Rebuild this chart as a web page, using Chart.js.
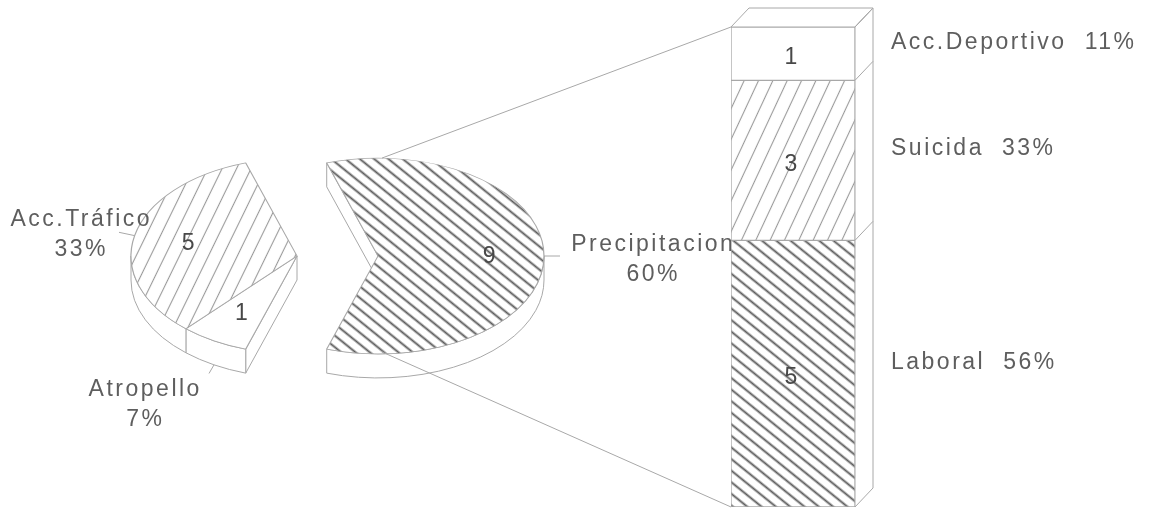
<!DOCTYPE html>
<html>
<head>
<meta charset="utf-8">
<script src="https://cdn.jsdelivr.net/npm/chart.js@4.4.1/dist/chart.umd.min.js"></script>
<style>
  html, body { margin: 0; padding: 0; background: #fff; }
  #wrap { position: relative; width: 1155px; height: 508px; overflow: hidden; background: #fff; }
  #wrap canvas { position: absolute; left: 0; top: 0; }
</style>
</head>
<body>
<div id="wrap">
  <canvas id="pieCanvas" width="1155" height="508"></canvas>
  <canvas id="barCanvas" width="1155" height="508"></canvas>
</div>
<script>
// Main breakdown of cases (pie) and the split of "Precipitacion" (stacked bar)
const pieLabels = ['Precipitacion', 'Atropello', 'Acc.Tráfico'];
const pieValues = [9, 1, 5];
const barLabels = ['Laboral', 'Suicida', 'Acc.Deportivo'];
const barValues = [5, 3, 1];

// ---- drawing constants ----
const K = 0.59;          // vertical squash of the tilted pie
const DEPTH = 24;        // thickness of the pie
const EXPLODE = 81;      // how far the split slice is pulled out
const BAR_DX = 18, BAR_DY = 19;   // depth of the bar
const LINE = '#a8a8a8';
const TEXT = '#5e5e5e';
const FONT = '23px "Liberation Sans", Arial, sans-serif';
const SPACING = '2.5px';
const VALUE_FONT = '23px "Liberation Sans", Arial, sans-serif';

function hatch(period, lineW, color, angleDeg, squash) {
  const c = document.createElement('canvas');
  c.width = 16; c.height = period;
  const g = c.getContext('2d');
  g.fillStyle = '#fff'; g.fillRect(0, 0, 16, period);
  g.fillStyle = color; g.fillRect(0, (period - lineW) / 2, 16, lineW);
  const p = g.createPattern(c, 'repeat');
  p.setTransform(new DOMMatrix().scaleSelf(1, 1 / squash).rotateSelf(angleDeg));
  return p;
}
const pieFills = [hatch(9, 1.9, '#5a5a5a', 39, K), '#ffffff', hatch(13, 1.1, '#9a9a9a', -64, K)];
const barFills = [hatch(9, 1.9, '#5a5a5a', 39, 1), hatch(13, 1.1, '#9a9a9a', -65, 1), '#ffffff'];

const pieTotal = pieValues.reduce((a, b) => a + b, 0);
const barTotal = barValues.reduce((a, b) => a + b, 0);
const pct = (v, t) => Math.round(v / t * 100) + '%';

// label placement (first-line baseline) for each pie slice
const pieLabelAt = [[652, 251], [144, 396], [80, 226]];
const geo = {};

function ell(x, y, R, a) { return [x + R * Math.cos(a), y + R * K * Math.sin(a)]; }

const pie3d = {
  id: 'pie3d',
  beforeDatasetsDraw(chart) {
    const ctx = chart.ctx, ca = chart.chartArea;
    const cx = (ca.left + ca.right) / 2, cy = (ca.top + ca.bottom) / 2;
    const arcs = chart.getDatasetMeta(0).data;
    const n = arcs.length;
    const exploded = i => i === 0;
    arcs[0].x = cx + EXPLODE;
    geo.cx = cx; geo.cy = cy; geo.R = arcs[0].outerRadius; geo.ex = arcs[0].x;

    ctx.save();
    ctx.fillStyle = '#fff'; ctx.strokeStyle = LINE; ctx.lineWidth = 1;
    // radial walls where a slice is cut open
    arcs.forEach((a, i) => {
      const prev = (i - 1 + n) % n, next = (i + 1) % n;
      const walls = [];
      if ((exploded(i) || exploded(prev)) && -Math.cos(a.startAngle) > 0) walls.push(a.startAngle);
      if ((exploded(i) || exploded(next)) && Math.cos(a.endAngle) > 0) walls.push(a.endAngle);
      walls.forEach(t => {
        const [px, py] = ell(a.x, a.y, a.outerRadius, t);
        ctx.beginPath();
        ctx.moveTo(a.x, a.y); ctx.lineTo(px, py); ctx.lineTo(px, py + DEPTH); ctx.lineTo(a.x, a.y + DEPTH);
        ctx.closePath(); ctx.fill(); ctx.stroke();
      });
    });
    // outer rim, front half only
    arcs.forEach(a => {
      const R = a.outerRadius;
      for (let k = -1; k <= 1; k++) {
        const lo = Math.max(a.startAngle, 2 * Math.PI * k);
        const hi = Math.min(a.endAngle, 2 * Math.PI * k + Math.PI);
        if (hi > lo) {
          ctx.beginPath();
          ctx.ellipse(a.x, a.y, R, R * K, 0, lo, hi, false);
          ctx.ellipse(a.x, a.y + DEPTH, R, R * K, 0, hi, lo, true);
          ctx.closePath(); ctx.fill(); ctx.stroke();
        }
      }
    });
    ctx.restore();

    // tilt the top faces
    ctx.save();
    ctx.translate(0, cy); ctx.scale(1, K); ctx.translate(0, -cy);
  },
  afterDatasetsDraw(chart) {
    const ctx = chart.ctx;
    ctx.restore();
    const arcs = chart.getDatasetMeta(0).data;
    ctx.save();
    arcs.forEach((a, i) => {
      const mid = (a.startAngle + a.endAngle) / 2;
      const R = a.outerRadius;
      // leader
      let [sx, sy] = ell(a.x, a.y, R, mid);
      if (Math.sin(mid) > 0.5) sy += DEPTH;
      const len = Math.sin(mid) > 0.5 ? 10 : 16;
      ctx.strokeStyle = LINE; ctx.lineWidth = 1;
      ctx.beginPath(); ctx.moveTo(sx, sy);
      ctx.lineTo(sx + Math.cos(mid) * len, sy + Math.sin(mid) * len); ctx.stroke();
      // value inside the slice
      const [vx, vy] = ell(a.x, a.y, R * 0.67, mid);
      ctx.font = VALUE_FONT; ctx.letterSpacing = '0px';
      ctx.fillStyle = '#484848'; ctx.textAlign = 'center'; ctx.textBaseline = 'middle';
      ctx.fillText(String(pieValues[i]), vx, vy + 1);
      // name and share
      const [lx, ly] = pieLabelAt[i];
      ctx.font = FONT;
      ctx.fillStyle = TEXT; ctx.textBaseline = 'alphabetic'; ctx.letterSpacing = SPACING;
      ctx.fillText(pieLabels[i], lx + 1.25, ly);
      ctx.fillText(pct(pieValues[i], pieTotal), lx + 1.25, ly + 30);
    });
    ctx.restore();
  }
};

const pieChart = new Chart(document.getElementById('pieCanvas'), {
  type: 'pie',
  data: {
    labels: pieLabels,
    datasets: [{
      data: pieValues,
      backgroundColor: pieFills,
      borderColor: LINE,
      borderWidth: 1.2,
      radius: 166,
      clip: false
    }]
  },
  options: {
    responsive: false,
    animation: false,
    events: [],
    rotation: -18,
    layout: { padding: { left: 0, right: 561, top: 4, bottom: 0 } },
    plugins: { legend: { display: false }, tooltip: { enabled: false } }
  },
  plugins: [pie3d]
});

function poly(ctx, pts) {
  ctx.beginPath();
  pts.forEach(([x, y], i) => i ? ctx.lineTo(x, y) : ctx.moveTo(x, y));
  ctx.closePath(); ctx.fill(); ctx.stroke();
}

const bar3d = {
  id: 'bar3d',
  beforeDatasetsDraw(chart) {
    const ctx = chart.ctx;
    const metas = chart.getSortedVisibleDatasetMetas();
    const first = metas[0].data[0], last = metas[metas.length - 1].data[0];
    const L = first.x - first.width / 2, Rt = first.x + first.width / 2;
    const top = last.y, base = first.base;
    ctx.save();
    ctx.strokeStyle = LINE; ctx.lineWidth = 1; ctx.fillStyle = '#fff';
    // connectors from the split slice to the bar
    if (geo.R) {
      const ry = geo.R * K;
      ctx.beginPath();
      ctx.moveTo(geo.ex + 4, geo.cy - ry); ctx.lineTo(L, top);
      ctx.moveTo(geo.ex + 4, geo.cy + ry - 2); ctx.lineTo(L, base);
      ctx.stroke();
    }
    poly(ctx, [[L, top], [L + BAR_DX, top - BAR_DY], [Rt + BAR_DX, top - BAR_DY], [Rt, top]]);
    poly(ctx, [[Rt, top], [Rt + BAR_DX, top - BAR_DY], [Rt + BAR_DX, base - BAR_DY], [Rt, base]]);
    ctx.beginPath();
    metas.forEach(m => {
      const el = m.data[0];
      ctx.moveTo(Rt, el.y); ctx.lineTo(Rt + BAR_DX, el.y - BAR_DY);
    });
    ctx.stroke();
    ctx.restore();
  },
  afterDatasetsDraw(chart) {
    const ctx = chart.ctx;
    const metas = chart.getSortedVisibleDatasetMetas();
    ctx.save();
    metas.forEach((m, i) => {
      const el = m.data[0];
      const mid = (el.y + el.base) / 2;
      ctx.font = VALUE_FONT; ctx.letterSpacing = '0px';
      ctx.fillStyle = '#484848'; ctx.textAlign = 'center'; ctx.textBaseline = 'middle';
      ctx.fillText(String(barValues[i]), el.x - 2, mid + 4);
      ctx.font = FONT;
      ctx.fillStyle = TEXT; ctx.textAlign = 'left'; ctx.textBaseline = 'alphabetic';
      ctx.letterSpacing = SPACING;
      const x0 = el.x + el.width / 2 + 36;
      ctx.fillText(barLabels[i], x0, mid - 5);
      const w = ctx.measureText(barLabels[i]).width;
      ctx.fillText(pct(barValues[i], barTotal), x0 + w + 18, mid - 5);
    });
    ctx.restore();
  }
};

new Chart(document.getElementById('barCanvas'), {
  type: 'bar',
  data: {
    labels: [''],
    datasets: barLabels.map((name, i) => ({
      label: name,
      data: [barValues[i]],
      backgroundColor: barFills[i],
      borderColor: LINE,
      borderWidth: 1,
      borderSkipped: false,
      categoryPercentage: 1,
      barPercentage: 1
    }))
  },
  options: {
    responsive: false,
    animation: false,
    events: [],
    layout: { padding: { left: 731, right: 300, top: 27, bottom: 1 } },
    scales: {
      x: { display: false, stacked: true },
      y: { display: false, stacked: true, min: 0, max: barTotal }
    },
    plugins: { legend: { display: false }, tooltip: { enabled: false } }
  },
  plugins: [bar3d]
});
</script>
</body>
</html>
